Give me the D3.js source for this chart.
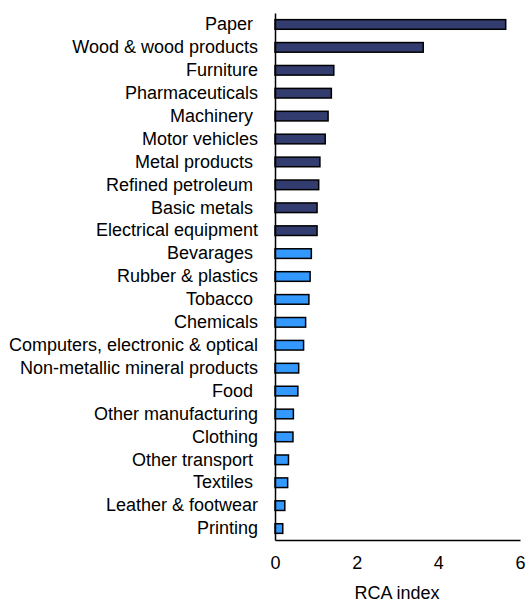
<!DOCTYPE html>
<html>
<head>
<meta charset="utf-8">
<script src="https://cdn.jsdelivr.net/npm/d3@7"></script>
<style>
  body { margin: 0; background: #fff; }
  svg text { font-family: "Liberation Sans", Arial, sans-serif; fill: #000; white-space: pre; }
</style>
</head>
<body>
<svg width="527" height="603"></svg>
<script>
'use strict';

// the data! (top 10 are dark, the rest light)
var categories = [
  'Paper ', 'Wood & wood products', 'Furniture', 'Pharmaceuticals', 'Machinery ',
  'Motor vehicles', 'Metal products ', 'Refined petroleum ', 'Basic metals ', 'Electrical equipment',
  'Bevarages ', 'Rubber & plastics', 'Tobacco ', 'Chemicals', 'Computers, electronic & optical',
  'Non-metallic mineral products', 'Food ', 'Other manufacturing', 'Clothing', 'Other transport ',
  'Textiles ', 'Leather & footwear', 'Printing'
];
var rcaValues = [
  5.65, 3.63, 1.44, 1.38, 1.30,
  1.23, 1.10, 1.07, 1.03, 1.03,
  0.89, 0.86, 0.83, 0.75, 0.70,
  0.58, 0.56, 0.45, 0.44, 0.33,
  0.31, 0.24, 0.19
];
var groups = [
  'high', 'high', 'high', 'high', 'high', 'high', 'high', 'high', 'high', 'high',
  'low', 'low', 'low', 'low', 'low', 'low', 'low', 'low', 'low', 'low', 'low', 'low', 'low'
];
var xTicks = [0, 2, 4, 6];
var xTitle = 'RCA index';

var dataList = categories.map(function(c, i){
  return {name: c, value: rcaValues[i], group: groups[i]};
});

var svg = d3.select('svg');

var x = d3.scaleLinear().domain([0, 6]).range([275, 520]);
var y = d3.scaleBand()
  .domain(categories)
  .range([13, 540])
  .paddingInner(0.58)
  .paddingOuter(0.29);

var color = {high: '#323c6e', low: '#3399ff'};

// bars
svg.selectAll('rect.bar')
  .data(dataList)
  .enter().append('rect')
  .attr('class', 'bar')
  .attr('x', x(0))
  .attr('y', function(d){ return y(d.name); })
  .attr('width', function(d){ return x(d.value) - x(0); })
  .attr('height', y.bandwidth())
  .attr('fill', function(d){ return color[d.group]; })
  .attr('stroke', '#000')
  .attr('stroke-width', 1.5);

// left axis (category labels)
var yAxis = svg.append('g')
  .attr('transform', 'translate(' + x(0) + ',0)')
  .call(d3.axisLeft(y).tickSize(0).tickPadding(17).tickSizeOuter(0));
yAxis.selectAll('text').style('font-size', '18px');
yAxis.select('.domain').attr('stroke', '#000').attr('stroke-width', 1.5);

// bottom axis
var xAxis = svg.append('g')
  .attr('transform', 'translate(0,540)')
  .call(d3.axisBottom(x).tickValues(xTicks).tickFormat(d3.format('d'))
    .tickSize(0).tickPadding(16).tickSizeOuter(0));
xAxis.selectAll('text').style('font-size', '18px');
xAxis.select('.domain').attr('stroke', '#000').attr('stroke-width', 1.5);

// axis title
svg.append('text')
  .attr('x', 397)
  .attr('y', 599)
  .attr('text-anchor', 'middle')
  .style('font-size', '18px')
  .text(xTitle);
</script>
</body>
</html>
